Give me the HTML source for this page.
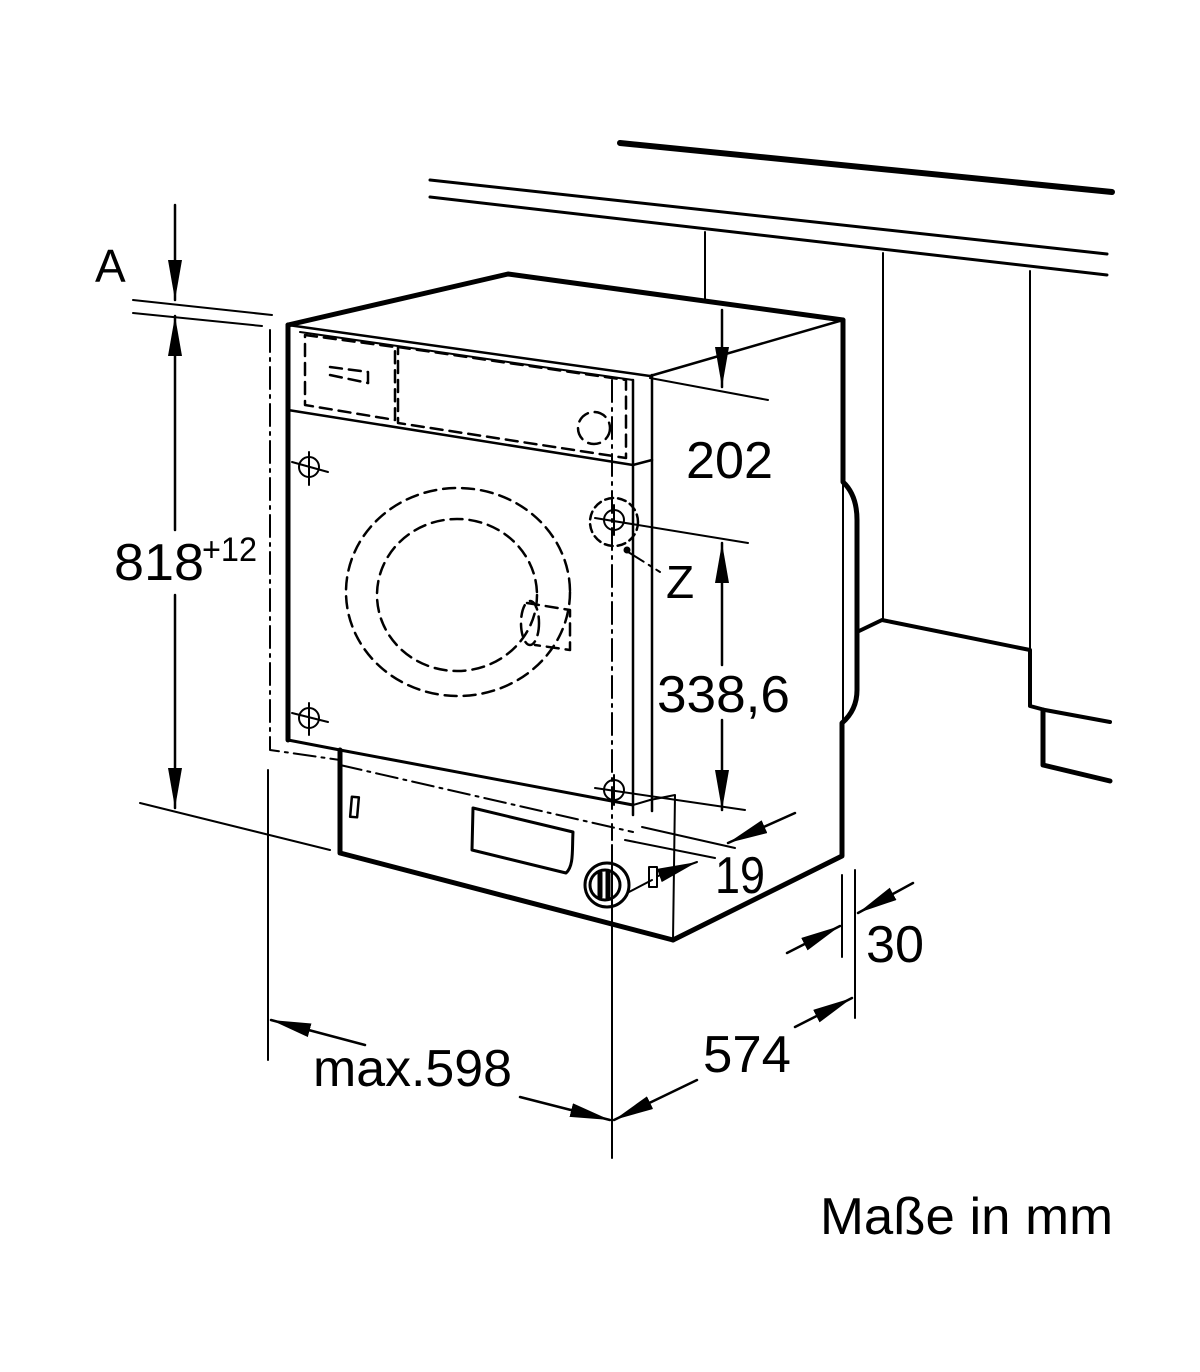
<!DOCTYPE html>
<html><head><meta charset="utf-8"><style>
html,body{margin:0;padding:0;background:#fff;width:1200px;height:1372px;overflow:hidden}
svg{display:block}
text{font-family:"Liberation Sans",sans-serif;fill:#000}
</style></head><body>
<svg width="1200" height="1372" viewBox="0 0 1200 1372" xmlns="http://www.w3.org/2000/svg">
<defs>
<marker id="ahb" viewBox="0 0 40 14" refX="40" refY="7" markerWidth="40" markerHeight="14" markerUnits="userSpaceOnUse" orient="auto">
<path d="M0,0 L40,7 L0,14 z" fill="#000"/></marker>
</defs>
<g stroke="#000" fill="none" stroke-linecap="round" stroke-linejoin="round">
<line x1="620" y1="143" x2="1112" y2="192" stroke-width="6"/>
<line x1="430" y1="180" x2="1107" y2="254" stroke-width="3"/>
<line x1="430" y1="197" x2="1107" y2="275" stroke-width="3"/>
<line x1="705" y1="232" x2="705" y2="300" stroke-width="2"/>
<line x1="883" y1="253" x2="883" y2="621" stroke-width="2"/>
<line x1="1030" y1="271" x2="1030" y2="650" stroke-width="2"/>
<polyline points="857,632 882,620 1030,650 1030,706 1045,710 1110,722" stroke-width="4"/>
<polyline points="1043,710 1043,765 1110,781" stroke-width="5"/>
<polyline points="288,325 508,274 843,320" stroke-width="5"/>
<line x1="650" y1="376" x2="843" y2="320" stroke-width="2.5"/>
<polyline points="288,325 650,376" stroke-width="2.5"/>
<line x1="300" y1="332" x2="633" y2="380" stroke-width="2"/>
<path d="M843,320 L843,482 Q857,495 857,520 L857,690 Q857,710 842,723 L842,856 L673,940" stroke-width="5"/>
<line x1="843" y1="482" x2="843" y2="723" stroke-width="2"/>
<line x1="652" y1="375" x2="652" y2="811" stroke-width="2.5"/>
<line x1="633" y1="380" x2="633" y2="815" stroke-width="2.5"/>
<polyline points="650,800 675,795 673,940" stroke-width="2"/>
<line x1="288" y1="325" x2="288" y2="740" stroke-width="5"/>
<line x1="288" y1="410" x2="633" y2="465" stroke-width="2.5"/>
<line x1="633" y1="465" x2="652" y2="460" stroke-width="2.5"/>
<polyline points="288,740 340,750 633,805" stroke-width="3"/>
<line x1="633" y1="805" x2="650" y2="800" stroke-width="2"/>
<polyline points="340,750 340,853 673,940" stroke-width="5"/>
<rect x="351" y="797" width="7" height="20" stroke-width="2.5" transform="rotate(5 354 807)"/>
<path d="M473,808 L573,832 C572,850 574,866 566,873 L472,850 Z" stroke-width="3"/>
<circle cx="607" cy="885" r="22" stroke-width="3"/>
<circle cx="605" cy="885" r="15" stroke-width="3"/>
<line x1="600" y1="873" x2="600" y2="897" stroke-width="5"/>
<line x1="608" y1="872" x2="608" y2="898" stroke-width="5"/>
<rect x="649" y="867" width="8" height="20" stroke-width="2"/>
<line x1="629" y1="892" x2="652" y2="880" stroke-width="2"/>
<line x1="658" y1="876" x2="697" y2="862" stroke-width="2" marker-end="url(#ahb)"/>
<g stroke-dasharray="12,7" stroke-width="2.5">
<polyline points="305,335 395,347 395,420 305,405 305,335"/>
<polyline points="330,367 368,372 368,383"/>
<line x1="330" y1="375" x2="368" y2="383"/>
<polyline points="398,347 626,380 626,458 398,423 398,347"/>
<circle cx="594" cy="428" r="16"/>
<ellipse cx="458" cy="592" rx="112" ry="104"/>
<ellipse cx="457" cy="595" rx="80" ry="76"/>
<polyline points="527,603 570,610 570,650 535,645"/>
<ellipse cx="530" cy="623" rx="9" ry="22"/>
<circle cx="614" cy="522" r="24" stroke-dasharray="8,5"/>
</g>
<g stroke-dasharray="22,6,3,6" stroke-width="2">
<polyline points="270,330 270,750 340,760"/>
<line x1="340" y1="765" x2="633" y2="832"/>
<line x1="612" y1="380" x2="612" y2="840"/>
<polyline points="625,550 660,572"/>
</g>
<circle cx="627" cy="550" r="3" fill="#000"/>
<g stroke-width="2">
<circle cx="309" cy="467" r="10"/><line x1="309" y1="452" x2="309" y2="485"/><line x1="292" y1="462" x2="328" y2="472"/>
<circle cx="309" cy="718" r="10"/><line x1="309" y1="703" x2="309" y2="735"/><line x1="292" y1="713" x2="328" y2="722"/>
<circle cx="614" cy="520" r="10"/><line x1="614" y1="505" x2="614" y2="535"/>
<circle cx="614" cy="790" r="10"/><line x1="614" y1="775" x2="614" y2="805"/>
</g>
<line x1="612" y1="845" x2="612" y2="1158" stroke-width="2"/>
<line x1="268" y1="770" x2="268" y2="1060" stroke-width="2"/>
<line x1="855" y1="870" x2="855" y2="1018" stroke-width="2"/>
<line x1="842" y1="875" x2="842" y2="957" stroke-width="2"/>
<line x1="133" y1="300" x2="272" y2="315" stroke-width="2"/>
<line x1="133" y1="313" x2="262" y2="326" stroke-width="2"/>
<line x1="140" y1="803" x2="330" y2="850" stroke-width="2"/>
<line x1="650" y1="378" x2="768" y2="400" stroke-width="2"/>
<line x1="595" y1="518" x2="748" y2="543" stroke-width="2"/>
<line x1="595" y1="788" x2="745" y2="810" stroke-width="2"/>
<line x1="642" y1="827" x2="735" y2="848" stroke-width="2"/>
<line x1="625" y1="840" x2="715" y2="858" stroke-width="2"/>
<g stroke-width="2.5">
<line x1="175" y1="205" x2="175" y2="300" marker-end="url(#ahb)"/>
<line x1="175" y1="530" x2="175" y2="316" marker-end="url(#ahb)"/>
<line x1="175" y1="595" x2="175" y2="808" marker-end="url(#ahb)"/>
<line x1="722" y1="310" x2="722" y2="387" marker-end="url(#ahb)"/>
<line x1="722" y1="665" x2="722" y2="543" marker-end="url(#ahb)"/>
<line x1="722" y1="720" x2="722" y2="810" marker-end="url(#ahb)"/>
<line x1="795" y1="813" x2="728" y2="843" marker-end="url(#ahb)"/>
<line x1="787" y1="953" x2="840" y2="926" marker-end="url(#ahb)"/>
<line x1="913" y1="883" x2="858" y2="913" marker-end="url(#ahb)"/>
<line x1="697" y1="1080" x2="614" y2="1120" marker-end="url(#ahb)"/>
<line x1="795" y1="1027" x2="852" y2="998" marker-end="url(#ahb)"/>
<line x1="365" y1="1045" x2="271" y2="1020" marker-end="url(#ahb)"/>
<line x1="520" y1="1097" x2="610" y2="1120" marker-end="url(#ahb)"/>
</g>
</g>
<g font-size="52">
<text x="95" y="282" font-size="46">A</text>
<text x="114" y="580" textLength="90" lengthAdjust="spacingAndGlyphs">818</text>
<text x="202" y="561" font-size="34" textLength="55" lengthAdjust="spacingAndGlyphs">+12</text>
<text x="686" y="478" textLength="87" lengthAdjust="spacingAndGlyphs">202</text>
<text x="666" y="598" font-size="46">Z</text>
<text x="657" y="712" textLength="133" lengthAdjust="spacingAndGlyphs">338,6</text>
<text x="715" y="893" textLength="50" lengthAdjust="spacingAndGlyphs">19</text>
<text x="866" y="962" textLength="58" lengthAdjust="spacingAndGlyphs">30</text>
<text x="703" y="1072" textLength="88" lengthAdjust="spacingAndGlyphs">574</text>
<text x="313" y="1086" textLength="199" lengthAdjust="spacingAndGlyphs">max.598</text>
<text x="820" y="1234" textLength="293" lengthAdjust="spacingAndGlyphs">Maße in mm</text>
</g>
</svg>
</body></html>
